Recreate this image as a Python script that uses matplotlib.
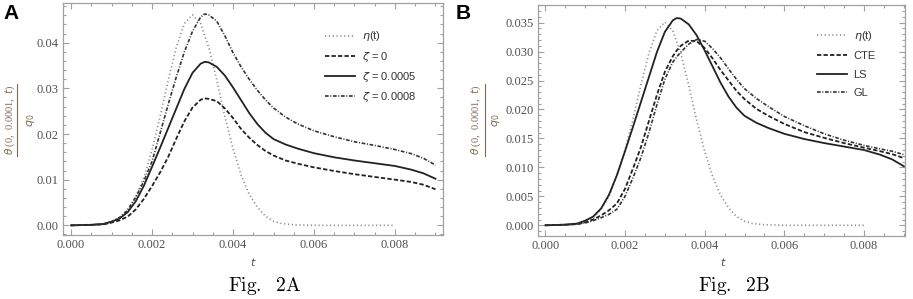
import matplotlib
matplotlib.use("Agg")
import matplotlib.pyplot as plt
from matplotlib.ticker import MultipleLocator, FormatStrFormatter
from matplotlib.lines import Line2D

# ---- data ----
t_eta = [0, 0.0008, 0.001, 0.0012, 0.0014, 0.0016, 0.0018, 0.002, 0.0022, 0.0024,
         0.0026, 0.0028, 0.003, 0.0032, 0.0034, 0.0036, 0.0038, 0.004, 0.0042,
         0.0044, 0.0046, 0.0048, 0.005, 0.0052, 0.0055, 0.006, 0.008]
eta_a = [0, 0.0003, 0.0008, 0.0017, 0.0035, 0.0063, 0.0105, 0.0165, 0.0238, 0.0318,
         0.0390, 0.0442, 0.0461, 0.0442, 0.0390, 0.0318, 0.0238, 0.0168, 0.0110,
         0.0068, 0.0040, 0.0020, 0.0009, 0.0004, 0.0001, 0.0, 0.0]
eta_b = [0, 0.0002, 0.0006, 0.0013, 0.0028, 0.0050, 0.0088, 0.0130, 0.0183, 0.0243,
         0.0297, 0.0336, 0.0351, 0.0336, 0.0297, 0.0242, 0.0181, 0.0128, 0.0084,
         0.0052, 0.0030, 0.0015, 0.0007, 0.0003, 0.0001, 0.0, 0.0]

t = [0, 0.0005, 0.0008, 0.001, 0.0012, 0.0014, 0.0016, 0.0018, 0.002, 0.0022,
     0.0024, 0.0026, 0.0028, 0.003, 0.0032, 0.0033, 0.0034, 0.0036, 0.0038, 0.004,
     0.0042, 0.0044, 0.0046, 0.0048, 0.005, 0.0053, 0.0056, 0.006, 0.0065, 0.007,
     0.0075, 0.008, 0.0084, 0.0087, 0.009]

zeta_0 = [0, 0.0001, 0.0002, 0.0006, 0.0011, 0.0019, 0.0035, 0.0058, 0.0086, 0.0116,
          0.0150, 0.0190, 0.0228, 0.0258, 0.0275, 0.0278, 0.0277, 0.0272, 0.0256, 0.0235,
          0.0211, 0.0192, 0.0176, 0.0163, 0.0153, 0.0142, 0.0135, 0.0127, 0.0119, 0.0112,
          0.0106, 0.0100, 0.0095, 0.0089, 0.0079]
zeta_0005 = [0, 0.0001, 0.0003, 0.0008, 0.0015, 0.0029, 0.0053, 0.0087, 0.0128, 0.0170,
             0.0213, 0.0256, 0.0299, 0.0334, 0.0354, 0.0358, 0.0357, 0.0347, 0.0328, 0.0302,
             0.0274, 0.0246, 0.0222, 0.0203, 0.0189, 0.0177, 0.0168, 0.0158, 0.0149, 0.0142,
             0.0136, 0.0130, 0.0122, 0.0114, 0.0102]
zeta_0008 = [0, 0.0001, 0.0003, 0.0008, 0.0017, 0.0033, 0.0062, 0.0097, 0.0140, 0.0202,
             0.0265, 0.0325, 0.0380, 0.0425, 0.0456, 0.0463, 0.0461, 0.0447, 0.0415, 0.0378,
             0.0347, 0.0320, 0.0296, 0.0275, 0.0257, 0.0237, 0.0222, 0.0207, 0.0194, 0.0183,
             0.0175, 0.0166, 0.0157, 0.0147, 0.0132]

cte = [0, 0.0001, 0.0002, 0.0005, 0.0010, 0.0017, 0.0026, 0.0038, 0.0063, 0.0098,
       0.0135, 0.0180, 0.0225, 0.0265, 0.0292, 0.0302, 0.0310, 0.0319, 0.0318, 0.0306,
       0.0288, 0.0268, 0.0250, 0.0232, 0.0218, 0.0201, 0.0189, 0.0175, 0.0161, 0.0151,
       0.0142, 0.0134, 0.0128, 0.0123, 0.0116]
ls = zeta_0005  # same curve in both panels
gl = [0, 0.0001, 0.0002, 0.0004, 0.0008, 0.0013, 0.0019, 0.0028, 0.0050, 0.0082,
      0.0117, 0.0160, 0.0208, 0.0252, 0.0282, 0.0291, 0.0299, 0.0313, 0.0321, 0.0318,
      0.0305, 0.0289, 0.0270, 0.0252, 0.0236, 0.0219, 0.0205, 0.0188, 0.0172, 0.0158,
      0.0147, 0.0138, 0.0132, 0.0128, 0.0122]

labels_a = [r'$\eta$(t)', r'$\zeta$ = 0', r'$\zeta$ = 0.0005', r'$\zeta$ = 0.0008']
labels_b = [r'$\eta$(t)', 'CTE', 'LS', 'GL']

# ---- styles ----
FRAME = '#a0a0a0'
TICKCOL = '#505050'
LABCOL = '#7d6a55'
st_eta = dict(color='#8a8a8a', lw=1.2, linestyle=(0, (0.7, 1.6)))
st_dash = dict(color='#222222', lw=1.3, linestyle=(0, (2.4, 1.2)))
st_solid = dict(color='#222222', lw=1.3, linestyle='-')
st_dd = dict(color='#333333', lw=1.2, linestyle=(0, (2.2, 1.0, 0.6, 1.0)))

plt.rcParams['font.family'] = ['Liberation Sans', 'DejaVu Sans']
plt.rcParams['mathtext.fontset'] = 'dejavusans'

fig = plt.figure(figsize=(9.13, 2.99), dpi=100)
ax_a = fig.add_axes([0.069, 0.214, 0.4162, 0.776])
ax_b = fig.add_axes([0.5893, 0.2107, 0.4019, 0.7726])


def style_axes(ax, ymajor, yminor, yfmt):
    for sp in ax.spines.values():
        sp.set_color(FRAME)
        sp.set_linewidth(0.9)
    ax.xaxis.set_major_locator(MultipleLocator(0.002))
    ax.xaxis.set_minor_locator(MultipleLocator(0.0005))
    ax.yaxis.set_major_locator(MultipleLocator(ymajor))
    ax.yaxis.set_minor_locator(MultipleLocator(yminor))
    ax.xaxis.set_major_formatter(FormatStrFormatter('%.3f'))
    ax.yaxis.set_major_formatter(FormatStrFormatter(yfmt))
    ax.tick_params(which='both', direction='in', top=True, right=True,
                   color=FRAME, width=0.8)
    ax.tick_params(which='major', length=4, labelsize=9, labelcolor=TICKCOL, pad=3)
    ax.tick_params(which='minor', length=2)
    for lab in ax.get_xticklabels() + ax.get_yticklabels():
        lab.set_family('Liberation Serif')


def draw_panel(ax, eta, curves, labels, legend_xy, spacing):
    ax.plot(t_eta, eta, **st_eta)
    for vals, st in zip(curves, [st_dash, st_solid, st_dd]):
        ax.plot(t, vals, **st)
    handles = [Line2D([], [], **s) for s in [st_eta, st_dash, st_solid, st_dd]]
    ax.legend(handles, labels, loc='upper left', bbox_to_anchor=legend_xy,
              frameon=False, fontsize=8, handlelength=2.7, handletextpad=0.6,
              labelspacing=spacing, borderpad=0, labelcolor='#333333')


draw_panel(ax_a, eta_a, [zeta_0, zeta_0005, zeta_0008], labels_a, (0.675, 0.91), 0.55)
ax_a.set_xlim(-0.000198, 0.009185)
ax_a.set_ylim(-0.00212, 0.0487)
style_axes(ax_a, 0.01, 0.002, '%.2f')

draw_panel(ax_b, eta_b, [cte, ls, gl], labels_b, (0.745, 0.92), 0.75)
ax_b.set_xlim(-0.000183, 0.009027)
ax_b.set_ylim(-0.00185, 0.03805)
style_axes(ax_b, 0.005, 0.001, '%.3f')

W, H = 913.0, 299.0


def fx(px):
    return px / W


def fy(py):
    return 1 - py / H


# y labels (rotated fraction), x labels, captions, panel letters
for xn, xbar, xq in [(10, 17, 31), (476, 485, 496)]:
    fig.text(fx(xn), fy(120), r'$\theta$ (0,  0.0001,  $t$)', rotation=90,
             ha='center', va='center', fontsize=7.5, color=LABCOL,
             family='Liberation Serif')
    fig.add_artist(Line2D([fx(xbar), fx(xbar)], [fy(84), fy(156)],
                          color=LABCOL, lw=0.8))
    fig.text(fx(xq), fy(120), r'$q_0$', rotation=90, ha='center', va='center',
             fontsize=8, color=LABCOL)

fig.text(fx(253), fy(262), '$t$', ha='center', va='center', fontsize=8, color=TICKCOL)
fig.text(fx(723), fy(262), '$t$', ha='center', va='center', fontsize=8, color=TICKCOL)

plt.rcParams['mathtext.fontset'] = 'cm'
fig.text(fx(265), fy(286), r'$\mathrm{Fig.\ \ 2A}$', ha='center', va='center',
         fontsize=14, color='black')
fig.text(fx(734), fy(286), r'$\mathrm{Fig.\ \ 2B}$', ha='center', va='center',
         fontsize=14, color='black')

fig.text(fx(3), fy(19), 'A', fontsize=15, fontweight='bold', ha='left', va='baseline')
fig.text(fx(456), fy(19), 'B', fontsize=15, fontweight='bold', ha='left', va='baseline')

fig.savefig('out.png', dpi=100)
